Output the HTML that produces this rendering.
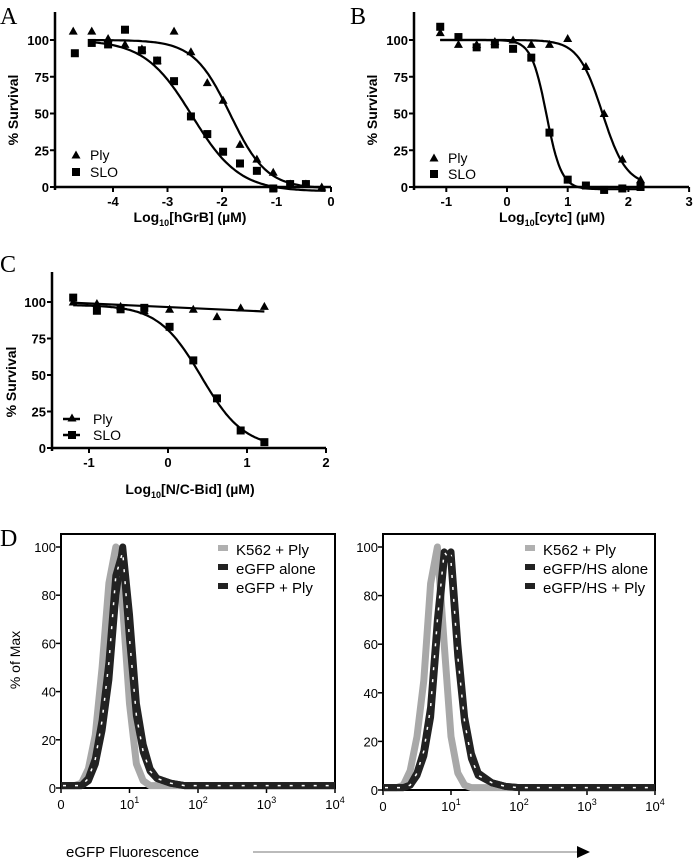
<!DOCTYPE html>
<html><head><meta charset="utf-8">
<style>
html,body{margin:0;padding:0;background:#fff;}
svg{display:block;font-family:"Liberation Sans",sans-serif;}
.b{font-weight:bold;font-size:13px;}
.n{font-size:13px;}
.let{font-family:"Liberation Serif",serif;font-size:24px;}
</style></head>
<body>
<svg id="fig" width="693" height="861" viewBox="0 0 693 861" xmlns="http://www.w3.org/2000/svg">
<text class="let" x="0" y="24">A</text>
<text class="let" x="350" y="24">B</text>
<text class="let" x="0" y="272">C</text>
<text class="let" x="0" y="546">D</text>
</svg>
<script>
// ---- Panel A data ----
const aPlyX=[-4.73,-4.39,-4.09,-3.78,-3.47,-3.19,-2.88,-2.57,-2.27,-1.98,-1.67,-1.36,-1.06,-0.75,-0.46,-0.17];
const aPlyY=[106,106,101,97,94,86,106,92,71,59,29,19,10,2,2,0];
const aSloX=[-4.7,-4.39,-4.09,-3.78,-3.47,-3.19,-2.88,-2.57,-2.27,-1.98,-1.67,-1.36,-1.06,-0.75,-0.46];
const aSloY=[91,98,97,107,93,86,72,48,36,24,16,11,-1,2,2];
const aFitPly=[100,-1,-1.85,1.3]; // top,bottom,logIC50,hill
const aFitSlo=[100,-3,-2.55,1.0];
// ---- Panel B data ----
const bX=[-1.1,-0.8,-0.5,-0.2,0.1,0.4,0.7,1.0,1.3,1.6,1.9,2.2];
const bPlyY=[105,97,97,99,100,97,97,101,82,50,19,5];
const bSloY=[109,102,95,97,94,88,37,5,1,-2,-1,0];
const bFitPly=[100,1,1.57,2.2];
const bFitSlo=[100,-1.5,0.65,3.5];
// ---- Panel C data ----
const cX=[-1.2,-0.9,-0.6,-0.3,0.02,0.32,0.62,0.92,1.22];
const cPlyY=[100,99,97,94,95,95,90,96,97];
const cSloY=[103,94,95,96,83,60,34,12,4];
const cLinePly=[99.5,93.5];
const cFitSlo=[98,0,0.42,1.6];
// ---- Panel D data ----
const histBins=[0,0.2,0.3,0.4,0.5,0.6,0.7,0.8,0.9,1.0,1.1,1.2,1.3,1.4,1.6,1.8,2.0,4.0];
const dLK562=[1,1,2,8,22,50,85,100,75,35,10,3,1,1,1,1,1,1];
const dLAlone=[1,1,1,3,10,24,45,80,100,72,35,18,8,4,2,1,1,1];
const dLPly=[1,1,1,4,12,28,52,88,98,62,30,15,7,4,2,1,1,1];
const dRK562=[1,1,2,8,22,45,85,100,60,22,7,2,1,1,1,1,1,1];
const dRAlone=[1,1,1,2,6,14,30,65,95,98,60,30,15,7,3,1.5,1,1];
const dRPly=[1,1,1,2,7,16,34,70,98,94,55,28,13,6,3,1.5,1,1];
const yTicksA=[0,25,50,75,100];
const yTicksD=[0,20,40,60,80,100];
const dTickLabels=["0","10","10","10","10"];
const dTickSup=["","1","2","3","4"];

const svg=document.getElementById('fig');
const NS='http://www.w3.org/2000/svg';
function mk(tag,attrs,parent){const e=document.createElementNS(NS,tag);for(const k in attrs)e.setAttribute(k,attrs[k]);(parent||svg).appendChild(e);return e;}
function fit(p,x){return p[1]+(p[0]-p[1])/(1+Math.pow(10,(x-p[2])*p[3]));}

function doseAxes(name,x0,x1,y0top,xs,ys,xTicks,xlabel,xlabPre,xlabSub,xlabPost,labX,labY,ytitleX,ytitleY){
  let e=mk('line',{x1:x0,y1:y0top,x2:x0,y2:ys(0)+3,stroke:'#000','stroke-width':2.5});
  
  
  e=mk('line',{x1:x0,y1:ys(0),x2:x1,y2:ys(0),stroke:'#000','stroke-width':2.5});
  
  
  yTicksA.forEach(v=>{
    mk('line',{x1:x0-5,y1:ys(v),x2:x0,y2:ys(v),stroke:'#000','stroke-width':2});
    const t=mk('text',{x:x0-6,y:ys(v)+5,'text-anchor':'end',class:'b'});t.textContent=v;
    
    
  });
  xTicks.forEach(v=>{
    mk('line',{x1:xs(v),y1:ys(0),x2:xs(v),y2:ys(0)+5,stroke:'#000','stroke-width':2});
    const t=mk('text',{x:xs(v),y:ys(0)+19,'text-anchor':'middle',class:'b'});t.textContent=v;
    
    
  });
  const xl=mk('text',{x:labX,y:labY,'text-anchor':'middle',class:'b',style:'font-size:14px'});
  
  
  const a=document.createElementNS(NS,'tspan');a.textContent=xlabPre;xl.appendChild(a);
  const s=document.createElementNS(NS,'tspan');s.setAttribute('font-size','9');s.setAttribute('dy','4');s.textContent=xlabSub;xl.appendChild(s);
  const c=document.createElementNS(NS,'tspan');c.setAttribute('dy','-4');c.textContent=xlabPost;xl.appendChild(c);
  const yt=mk('text',{x:0,y:0,'text-anchor':'middle',class:'b',style:'font-size:14px',transform:`translate(${ytitleX},${ytitleY}) rotate(-90)`});
  yt.textContent='% Survival';
  
  
}
function tri(x,y,name){const e=mk('polygon',{points:`${x},${y-4.5} ${x-4.5},${y+3.5} ${x+4.5},${y+3.5}`,fill:'#000'});
  
  }
function sq(x,y,name){const e=mk('rect',{x:x-4,y:y-4,width:8,height:8,fill:'#000'});
  
  }
function curve(p,xa,xb,xs,ys,name){let d='';for(let i=0;i<=120;i++){const x=xa+(xb-xa)*i/120;d+=(i?'L':'M')+xs(x).toFixed(1)+','+ys(fit(p,x)).toFixed(1);}
  const e=mk('path',{d:d,fill:'none',stroke:'#000','stroke-width':2.2});
  
  }
function legendTxt(x,y,txt,name){const t=mk('text',{x:x,y:y,class:'n',style:'font-size:14px'});t.textContent=txt;
  
  }

// Panel A
{const xs=v=>331+54.5*v, ys=v=>187-1.47*v;
 doseAxes('panel-a',55,331,12,xs,ys,[-4,-3,-2,-1,0],'','Log','10','[hGrB] (µM)',190,222,18,110);
 curve(aFitPly,-4.4,-0.1,xs,ys,'panel-a-ply-fit');
 curve(aFitSlo,-4.4,-0.1,xs,ys,'panel-a-slo-fit');
 aPlyX.forEach((x,i)=>tri(xs(x),ys(aPlyY[i]),'panel-a-ply-point'));
 aSloX.forEach((x,i)=>sq(xs(x),ys(aSloY[i]),'panel-a-slo-point'));
 tri(76,155,'panel-a-legend-ply-marker');legendTxt(90,160,'Ply','panel-a-legend-ply');
 sq(76,172,'panel-a-legend-slo-marker');legendTxt(90,177,'SLO','panel-a-legend-slo');}
// Panel B
{const xs=v=>507+60.7*v, ys=v=>187-1.47*v;
 doseAxes('panel-b',414,689,12,xs,ys,[-1,0,1,2,3],'','Log','10','[cytc] (µM)',552,222,377,110);
 curve(bFitPly,-1.1,2.2,xs,ys,'panel-b-ply-fit');
 curve(bFitSlo,-1.1,2.2,xs,ys,'panel-b-slo-fit');
 bX.forEach((x,i)=>tri(xs(x),ys(bPlyY[i]),'panel-b-ply-point'));
 bX.forEach((x,i)=>sq(xs(x),ys(bSloY[i]),'panel-b-slo-point'));
 tri(434,158,'panel-b-legend-ply-marker');legendTxt(448,163,'Ply','panel-b-legend-ply');
 sq(434,174,'panel-b-legend-slo-marker');legendTxt(448,179,'SLO','panel-b-legend-slo');}
// Panel C
{const xs=v=>168+79*v, ys=v=>448-1.46*v;
 doseAxes('panel-c',52,326,272,xs,ys,[-1,0,1,2],'','Log','10','[N/C-Bid] (µM)',190,494,16,382);
 const e=mk('line',{x1:xs(cX[0]),y1:ys(cLinePly[0]),x2:xs(cX[cX.length-1]),y2:ys(cLinePly[1]),stroke:'#000','stroke-width':2.2});
 
 
 curve(cFitSlo,-1.2,1.22,xs,ys,'panel-c-slo-fit');
 cX.forEach((x,i)=>tri(xs(x),ys(cPlyY[i]),'panel-c-ply-point'));
 cX.forEach((x,i)=>sq(xs(x),ys(cSloY[i]),'panel-c-slo-point'));
 mk('line',{x1:63,y1:419,x2:80,y2:419,stroke:'#000','stroke-width':2.5});
 tri(72,418,'panel-c-legend-ply-marker');legendTxt(93,424,'Ply','panel-c-legend-ply');
 mk('line',{x1:63,y1:435,x2:80,y2:435,stroke:'#000','stroke-width':2.5});
 sq(72,435,'panel-c-legend-slo-marker');legendTxt(93,440,'SLO','panel-c-legend-slo');}

// Panel D
function histPanel(name,x0,x1,top,y0,y100,series,labels){
  const dec=(x1-x0)/4;
  const xs=v=>x0+dec*v, ys=v=>y0-(y0-y100)*v/100;
  const box=mk('rect',{x:x0,y:top,width:x1-x0,height:y0-top,fill:'none',stroke:'#000','stroke-width':2});
  
  
  yTicksD.forEach(v=>{
    mk('line',{x1:x0-5,y1:ys(v),x2:x0,y2:ys(v),stroke:'#000','stroke-width':1.5});
    const t=mk('text',{x:x0-5,y:ys(v)+5,'text-anchor':'end',class:'n'});t.textContent=v;
    
    
  });
  dTickLabels.forEach((l,i)=>{
    mk('line',{x1:xs(i),y1:y0,x2:xs(i),y2:y0+5,stroke:'#000','stroke-width':1.5});
    const t=mk('text',{x:xs(i),y:y0+21,'text-anchor':'middle',class:'n'});t.textContent=l;
    
    
    if(dTickSup[i]){const s=document.createElementNS(NS,'tspan');s.setAttribute('font-size','9');s.setAttribute('dy','-6');s.textContent=dTickSup[i];t.appendChild(s);}
  });
  series.forEach((vals,k)=>{
    let d='';histBins.forEach((b,i)=>{d+=(i?'L':'M')+xs(b).toFixed(1)+','+ys(vals[i]).toFixed(1);});
    const grey=k===0;
    const p=mk('path',{d:d,fill:'none',stroke:grey?'#a8a8a8':'#222','stroke-width':7,'stroke-linejoin':'round'});
    
    
    if(!grey){const w=mk('path',{d:d,fill:'none',stroke:'#fff','stroke-width':1.5,'stroke-dasharray':'3 9','stroke-dashoffset':k*5});
      
      }
  });
  labels.forEach((l,k)=>{
    const ly=top+16+k*19, lx=x0+(name==='panel-d-left'?157:142);
    mk('rect',{x:lx,y:ly-5,width:10,height:6,fill:k===0?'#b0b0b0':'#222'});
    const t=mk('text',{x:lx+18,y:ly+5,class:'n',style:'font-size:15px'});t.textContent=l;
    
    
  });
}
histPanel('panel-d-left',61,335,534,788,547,[dLK562,dLAlone,dLPly],['K562 + Ply','eGFP alone','eGFP + Ply']);
histPanel('panel-d-right',383,655,534,790,547,[dRK562,dRAlone,dRPly],['K562 + Ply','eGFP/HS alone','eGFP/HS + Ply']);
{const yt=mk('text',{x:0,y:0,'text-anchor':'middle',class:'n',style:'font-size:14px',transform:'translate(20,660) rotate(-90)'});
 yt.textContent='% of Max';
 
 
 const xt=mk('text',{x:66,y:857,class:'n',style:'font-size:15px'});xt.textContent='eGFP Fluorescence';
 
 
 const ar=mk('line',{x1:253,y1:852,x2:578,y2:852,stroke:'#777','stroke-width':1});
 
 
 const ah=mk('polygon',{points:'577,846 590,852 577,858',fill:'#000'});
 
 }
</script>
</body></html>
